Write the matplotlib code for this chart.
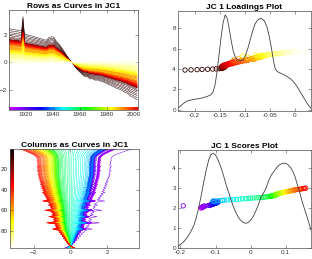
import numpy as np
import matplotlib
matplotlib.use('Agg')
import matplotlib.pyplot as plt
from matplotlib.colors import LinearSegmentedColormap

# ---------------- data ----------------
years = list(range(1908, 2003))  # 95 columns

scores = [
    -0.142, -0.140, -0.138, -0.139, -0.137, -0.135, -0.136, -0.134, -0.133, -0.131,
    -0.192,
    -0.122,
    -0.118, -0.116, -0.114, -0.113, -0.111, -0.110, -0.108, -0.106, -0.105, -0.103,
    -0.101, -0.099, -0.098, -0.096, -0.094, -0.093,
    -0.097, -0.103, -0.106, -0.107, -0.107, -0.103, -0.093, -0.086,
    -0.080, -0.074, -0.066, -0.057, -0.049, -0.040, -0.031, -0.023, -0.014, -0.007, 0.000, 0.007,
    0.016, 0.023, 0.030, 0.036, 0.041, 0.047, 0.053, 0.057, 0.060, 0.058,
    0.063, 0.067, 0.070, 0.068, 0.071, 0.074, 0.075, 0.073, 0.076, 0.079,
    0.078, 0.081, 0.085, 0.087, 0.089, 0.093, 0.095, 0.097, 0.100, 0.103,
    0.106, 0.109, 0.110, 0.113, 0.115, 0.118, 0.122, 0.125, 0.127, 0.130,
    0.135, 0.140, 0.143, 0.146, 0.150, 0.153, 0.157,
]

loadings = [
    -0.219, -0.207, -0.195, -0.185, -0.174, -0.164, -0.157, -0.151,
    -0.147, -0.145, -0.144, -0.146, -0.142, -0.144, -0.141, -0.143, -0.139, -0.146,
    -0.140, -0.143, -0.138, -0.145, -0.139, -0.137, -0.142, -0.136, -0.140, -0.134,
    -0.138, -0.131,
    -0.135, -0.127, -0.133, -0.124, -0.131, -0.122, -0.128, -0.118, -0.126, -0.115,
    -0.121, -0.112, -0.123, -0.108, -0.116, -0.104,
    -0.110, -0.098, -0.106, -0.094, -0.122, -0.096, -0.093, -0.084, -0.097, -0.082,
    -0.088, -0.080, -0.086, -0.112, -0.078, -0.083, -0.072, -0.080, -0.069, -0.095,
    -0.074, -0.066, -0.075, -0.064, -0.070, -0.104, -0.062, -0.068, -0.058, -0.065,
    -0.053, -0.078, -0.056, -0.048,
    -0.050, -0.040, -0.043, -0.033, -0.036, -0.026, -0.030, -0.020, -0.024, -0.013,
    -0.016, -0.006, -0.008, -0.001, 0.006, 0.020,
]
rows = list(range(1, len(loadings) + 1))
singular_value = 80.0

load_dens_x = [-0.233, -0.228, -0.222, -0.215, -0.205, -0.195, -0.185, -0.175, -0.168,
               -0.163, -0.159, -0.155, -0.151, -0.147, -0.143, -0.139, -0.135, -0.131,
               -0.127, -0.123, -0.119, -0.114, -0.109, -0.104, -0.099, -0.094, -0.089,
               -0.084, -0.079, -0.073, -0.067, -0.061, -0.056, -0.052, -0.048, -0.045,
               -0.042, -0.039, -0.035, -0.029, -0.022, -0.015, -0.008, -0.002, 0.004,
               0.010, 0.016, 0.021, 0.026, 0.032]
load_dens_y = [0.15, 0.35, 0.62, 0.85, 0.98, 1.06, 1.15, 1.30, 1.45,
               1.75, 2.5, 3.8, 5.5, 7.2, 8.6, 9.34, 9.0, 8.0,
               6.8, 5.8, 5.2, 4.9, 4.8, 4.9, 5.3, 6.0, 6.9,
               7.8, 8.5, 8.9, 9.0, 8.75, 8.2, 7.4, 6.4, 5.5,
               4.6, 4.0, 3.75, 3.6, 3.45, 3.25, 3.0, 2.7, 2.3,
               1.8, 1.3, 0.9, 0.5, 0.15]

score_dens_x = [-0.207, -0.200, -0.190, -0.181, -0.172, -0.162, -0.155, -0.148, -0.140,
                -0.133, -0.126, -0.119, -0.113, -0.107, -0.101, -0.095, -0.088, -0.082,
                -0.076, -0.069, -0.062, -0.057, -0.050, -0.043, -0.036, -0.029, -0.022,
                -0.014, -0.007, 0.000, 0.008, 0.015, 0.022, 0.030, 0.037, 0.045, 0.052,
                0.060, 0.067, 0.075, 0.083, 0.091, 0.099, 0.106, 0.113, 0.120, 0.127,
                0.134, 0.141, 0.148, 0.155, 0.162, 0.168, 0.172]
score_dens_y = [0.08, 0.15, 0.30, 0.50, 0.75, 1.10, 1.50, 2.00, 2.70,
                3.35, 3.95, 4.45, 4.68, 4.75, 4.68, 4.50, 4.20, 3.90,
                3.55, 3.10, 2.75, 2.45, 2.10, 1.80, 1.55, 1.38, 1.27,
                1.22, 1.26, 1.38, 1.58, 1.85, 2.15, 2.55, 2.75, 3.05, 3.40,
                3.68, 3.85, 4.05, 4.18, 4.24, 4.25, 4.18, 4.05, 3.85, 3.55,
                3.10, 2.70, 2.25, 1.85, 1.47, 1.12, 0.88]

# ---------------- styling ----------------
plt.rcParams['font.family'] = ['Liberation Sans', 'DejaVu Sans']
TICK_FS = 4.6
TITLE_FS = 6.0
AX_COLOR = '0.3'
CURVE_LW = 0.35

rainbow = LinearSegmentedColormap.from_list(
    'rb', [(0.0, (0.8, 0.0, 1.0)), (0.25, (0.0, 0.0, 1.0)), (0.42, (0.0, 1.0, 1.0)),
           (0.6, (0.0, 1.0, 0.0)), (0.8, (1.0, 1.0, 0.0)), (1.0, (1.0, 0.0, 0.0))])
hot = plt.get_cmap('hot')

S = np.array(scores)
L = np.array(loadings)
nY, nR = len(years), len(rows)
ycols = [rainbow(k / (nY - 1)) for k in range(nY)]
rcols = [hot(0.03 + k / (nR - 1) * 0.95) for k in range(nR)]
recon = singular_value * np.outer(L, S)

fig = plt.figure(figsize=(3.12, 2.59), dpi=100)
W, H = 312.0, 259.0


def mk_ax(l, t, r, b):
    return fig.add_axes([l / W, 1 - b / H, (r - l) / W, (b - t) / H])


def style(ax):
    for s in ax.spines.values():
        s.set_color(AX_COLOR)
        s.set_linewidth(0.5)
    ax.tick_params(direction='in', length=2, width=0.4, colors=AX_COLOR,
                   labelsize=TICK_FS, labelcolor='0.2', pad=1.5,
                   top=True, right=True)


# ---- Rows as curves ----
ax1 = mk_ax(9, 10, 138.3, 110)
for i in range(nR):
    ax1.plot(years, recon[i], color=rcols[i], lw=CURVE_LW)
yr = np.array(years, dtype=float)
xe = np.concatenate([yr - 0.5, [yr[-1] + 0.5]])
ax1.pcolormesh(xe, [-3.5, -3.27], np.arange(nY)[None, :], cmap=rainbow, shading='flat')
ax1.set_xlim(1907.7, 2003)
ax1.set_ylim(-3.5, 3.85)
ax1.set_xticks([1920, 1940, 1960, 1980, 2000])
ax1.set_yticks([-2, 0, 2])
ax1.set_title('Rows as Curves in JC1', fontsize=TITLE_FS, fontweight='bold', pad=1.5)
style(ax1)

# ---- Loadings plot ----
ax2 = mk_ax(178, 11, 311, 110.7)
ax2.plot(load_dens_x, load_dens_y, color='0.25', lw=0.6)
hl = np.linspace(0.418, 0.616, nR) * max(load_dens_y)
ax2.scatter(L, hl, s=10, facecolors='none', edgecolors=rcols, linewidths=0.6)
ax2.set_xlim(-0.233, 0.032)
ax2.set_ylim(-0.1, 9.72)
ax2.set_xticks([-0.2, -0.15, -0.1, -0.05, 0])
ax2.set_xticklabels(['-0.2', '-0.15', '-0.1', '-0.05', '0'])
ax2.set_yticks([0, 2, 4, 6, 8])
ax2.set_title('JC 1 Loadings Plot', fontsize=TITLE_FS, fontweight='bold', pad=1.5)
style(ax2)

# ---- Columns as curves ----
ax3 = mk_ax(10, 149, 139, 248.3)
rr = np.array(rows, dtype=float)
for j in range(nY):
    ax3.plot(recon[:, j], rows, color=ycols[j], lw=CURVE_LW)
ye = np.concatenate([rr - 0.5, [rr[-1] + 0.5]])
ax3.pcolormesh([-3.3, -3.08], ye, np.arange(nR)[:, None], cmap=hot, shading='flat')
ax3.set_xlim(-3.3, 3.75)
ax3.set_ylim(96.5, 1)
ax3.set_xticks([-2, 0, 2])
ax3.set_yticks([20, 40, 60, 80])
ax3.set_title('Columns as Curves in JC1', fontsize=TITLE_FS, fontweight='bold', pad=1.5)
style(ax3)

# ---- Scores plot ----
ax4 = mk_ax(178, 149.7, 311, 248.3)
ax4.plot(score_dens_x, score_dens_y, color='0.25', lw=0.6)
hs = np.linspace(0.42, 0.63, nY) * max(score_dens_y)
ax4.scatter(S, hs, s=10, facecolors='none', edgecolors=ycols, linewidths=0.6)
ax4.set_xlim(-0.207, 0.172)
ax4.set_ylim(-0.04, 4.93)
ax4.set_xticks([-0.2, -0.1, 0, 0.1])
ax4.set_xticklabels(['-0.2', '-0.1', '0', '0.1'])
ax4.set_yticks([0, 1, 2, 3, 4])
ax4.set_title('JC 1 Scores Plot', fontsize=TITLE_FS, fontweight='bold', pad=1.5)
style(ax4)

fig.savefig('out.png', dpi=100)
